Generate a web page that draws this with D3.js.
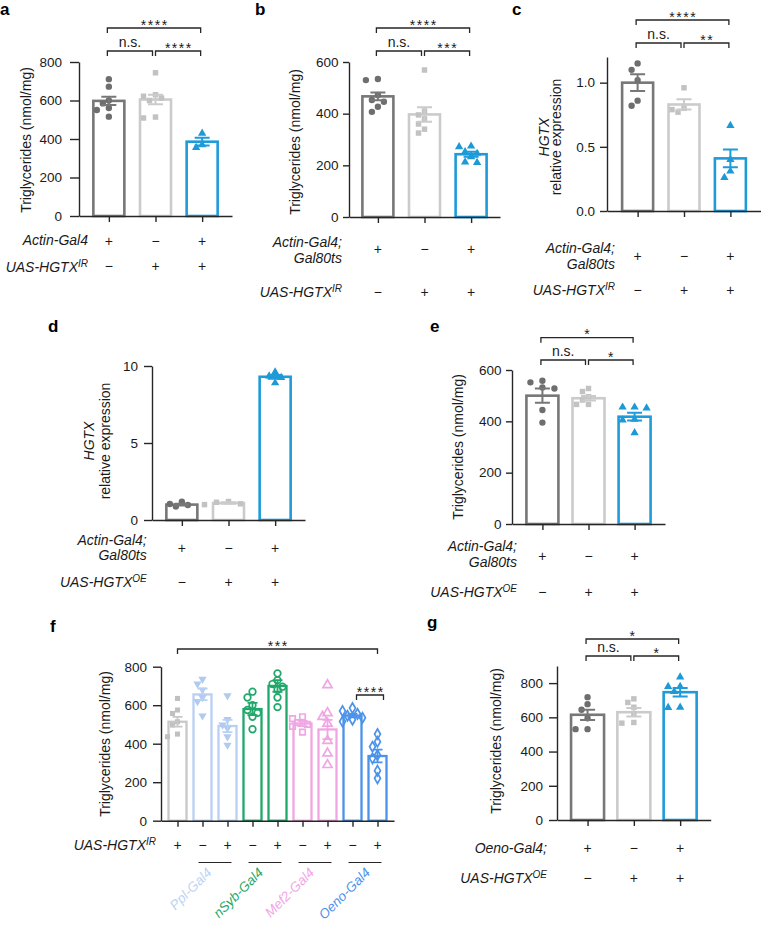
<!DOCTYPE html>
<html><head><meta charset="utf-8">
<script src="https://cdn.jsdelivr.net/npm/d3@7"></script>
<style>
body{margin:0;background:#fff;}
svg{display:block;font-family:"Liberation Sans", Arial, Helvetica, sans-serif;}
</style></head><body>
<svg id="fig" width="761" height="925"></svg>
<script>
const MINUS = "\u2212";

// ---------------- DATA ----------------
// Panel a
const aMeans = [598, 605, 386];
const aSEM = [22, 25, 20];
const aPts = [[711, 672, 600, 585, 561, 551, 516], [744, 630, 622, 613, 600, 514, 509], [430, 370, 355]];
const aTicks = [0, 200, 400, 600, 800];
const aRowLabels = [{lines: ["Actin-Gal4"]}, {lines: ["UAS-HGTX"], sup: "IR"}];
const aRowSigns = [["+", MINUS, "+"], [MINUS, "+", "+"]];
const aStats = [{from: 0, to: 1, label: "n.s.", level: 0}, {from: 1, to: 2, label: "****", level: 0}, {from: 0, to: 2, label: "****", level: 1}];

// Panel b
const bMeans = [467, 397, 243];
const bSEM = [15, 28, 10];
const bPts = [[534, 530, 472, 453, 446, 427, 407], [569, 410, 395, 380, 360, 340, 325], [274, 272, 252, 246, 233, 213, 211]];
const bTicks = [0, 200, 400, 600];
const bRowLabels = [{lines: ["Actin-Gal4;", "Gal80ts"]}, {lines: ["UAS-HGTX"], sup: "IR"}];
const bRowSigns = [["+", MINUS, "+"], [MINUS, "+", "+"]];
const bStats = [{from: 0, to: 1, label: "n.s.", level: 0}, {from: 1, to: 2, label: "***", level: 0}, {from: 0, to: 2, label: "****", level: 1}];

// Panel c
const cMeans = [1.0, 0.83, 0.41];
const cSEM = [0.065, 0.04, 0.07];
const cPts = [[1.15, 1.10, 1.02, 0.86, 0.82], [0.96, 0.80, 0.79, 0.77], [0.665, 0.40, 0.31, 0.26]];
const cTicks = [0, 0.5, 1.0];
const cRowLabels = [{lines: ["Actin-Gal4;", "Gal80ts"]}, {lines: ["UAS-HGTX"], sup: "IR"}];
const cRowSigns = [["+", MINUS, "+"], [MINUS, "+", "+"]];
const cStats = [{from: 0, to: 1, label: "n.s.", level: 0}, {from: 1, to: 2, label: "**", level: 0}, {from: 0, to: 2, label: "****", level: 1}];

// Panel d
const dMeans = [1.0, 1.1, 9.3];
const dSEM = [0.06, 0.05, 0.12];
const dPts = [[1.04, 0.87, 0.97, 1.19], [1.0, 1.05, 1.15, 1.2], [9.6, 9.35, 9.25, 8.9]];
const dTicks = [0, 5, 10];
const dRowLabels = [{lines: ["Actin-Gal4;", "Gal80ts"]}, {lines: ["UAS-HGTX"], sup: "OE"}];
const dRowSigns = [["+", MINUS, "+"], [MINUS, "+", "+"]];
const dStats = [];

// Panel e
const eMeans = [500, 490, 418];
const eSEM = [28, 9, 15];
const ePts = [[558, 552, 532, 528, 444, 395], [528, 516, 496, 483, 466, 466], [455, 455, 452, 408, 405, 355]];
const eTicks = [0, 200, 400, 600];
const eRowLabels = [{lines: ["Actin-Gal4;", "Gal80ts"]}, {lines: ["UAS-HGTX"], sup: "OE"}];
const eRowSigns = [["+", MINUS, "+"], [MINUS, "+", "+"]];
const eStats = [{from: 0, to: 1, label: "n.s.", level: 0}, {from: 1, to: 2, label: "*", level: 0}, {from: 0, to: 2, label: "*", level: 1}];

// Panel f
const fMeans = [514, 656, 492, 580, 700, 505, 474, 546, 336];
const fSEM = [25, 30, 32, 32, 30, 14, 50, 9, 33];
const fPts = [
  [635, 575, 557, 514, 497, 450, 436],
  [735, 710, 680, 640, 620, 545],
  [650, 526, 497, 480, 436, 393],
  [670, 640, 600, 575, 560, 540, 475],
  [765, 730, 710, 696, 680, 640, 590],
  [540, 530, 510, 500, 490, 460],
  [705, 560, 540, 505, 415, 350, 290],
  [585, 570, 555, 545, 535, 525, 515],
  [450, 410, 384, 341, 324, 260, 220]
];
const fTicks = [0, 200, 400, 600, 800];
const fRowLabels = [{lines: ["UAS-HGTX"], sup: "IR"}];
const fRowSigns = [["+", MINUS, "+", MINUS, "+", MINUS, "+", MINUS, "+"]];
const fDrivers = ["Ppl-Gal4", "nSyb-Gal4", "Mef2-Gal4", "Oeno-Gal4"];
const fDriverPairs = [[1, 2], [3, 4], [5, 6], [7, 8]];
const fStats = [{from: 0, to: 8, label: "***", level: 1}, {from: 7, to: 8, label: "****", level: 0}];

// Panel g
const gMeans = [615, 630, 747];
const gSEM = [30, 25, 25];
const gPts = [[718, 677, 644, 595, 531, 531], [708, 687, 659, 620, 570, 566], [835, 780, 780, 751, 659, 657]];
const gTicks = [0, 200, 400, 600, 800];
const gRowLabels = [{lines: ["Oeno-Gal4;"]}, {lines: ["UAS-HGTX"], sup: "OE"}];
const gRowSigns = [["+", MINUS, "+"], [MINUS, "+", "+"]];
const gStats = [{from: 0, to: 1, label: "n.s.", level: 0}, {from: 1, to: 2, label: "*", level: 0}, {from: 0, to: 2, label: "*", level: 1}];

// ---------------- STYLE ----------------
const AX = "#262626";
const TXT = "#1a1a1a";
const DARK = "#777777", LIGHT = "#cbcbcb", BLUE = "#1e9bd8";
const DARKP = "#6e6e6e", LIGHTP = "#c2c2c2", BLUEP = "#1d9ad6";
const std3Bars = [DARK, LIGHT, BLUE];
const std3Pts = [DARKP, LIGHTP, BLUEP];
const std3Markers = [{type: "circle", size: 32}, {type: "square", size: 30}, {type: "triangle", size: 30}];
const F_GREY = "#c8c8c8", F_LBLUE = "#b9d0f2", F_GREEN = "#1fa86a", F_PINK = "#f0a6e2", F_BLUE = "#4b93ea";
const fBarColors = [F_GREY, F_LBLUE, F_LBLUE, F_GREEN, F_GREEN, F_PINK, F_PINK, F_BLUE, F_BLUE];
const fPtColors = ["#c0c0c0", "#b0caf0", "#b0caf0", F_GREEN, F_GREEN, F_PINK, F_PINK, F_BLUE, F_BLUE];
const fMarkers = [
  {type: "square", size: 26}, {type: "tridown", size: 30}, {type: "tridown", size: 30},
  {type: "circle", size: 34, open: true}, {type: "circle", size: 34, open: true},
  {type: "square", size: 30, open: true}, {type: "triangle", size: 36, open: true},
  {type: "diamond", size: 30, open: true}, {type: "diamond", size: 30, open: true}
];
const fDriverColors = ["#bcd3f3", "#1ea868", "#f2a5e4", "#4a92ea"];
const fDriverDx = [-2.5, -1, 0, 6];

const svg = d3.select("#fig");

function symPath(type, size) {
  const map = {circle: d3.symbolCircle, square: d3.symbolSquare, triangle: d3.symbolTriangle,
    tridown: d3.symbolTriangle, diamond: d3.symbolDiamond};
  return d3.symbol().type(map[type]).size(size)();
}

function beeswarm(vals, y, step, minD) {
  const order = vals.map((v, i) => ({v, i, py: y(v)})).sort((a, b) => b.v - a.v);
  const placed = [];
  const cand = [0, -1, 1, -2, 2, -3, 3, -4, 4];
  order.forEach(o => {
    o.dx = 0;
    for (const c of cand) {
      const dx = c * step;
      if (placed.every(p => Math.hypot(p.dx - dx, p.py - o.py) >= minD)) { o.dx = dx; break; }
    }
    placed.push(o);
  });
  return order;
}

function drawPanel(L, D) {
  const g = svg.append("g");
  const n = D.means.length;
  const x = d3.scalePoint().domain(d3.range(n)).range([L.axisX, L.axisEnd]).padding(L.pad);
  const y = d3.scaleLinear().domain([0, L.dmax]).range([L.y0, L.y1]);

  // panel letter
  g.append("text").attr("x", L.lx).attr("y", L.ly).text(L.label)
    .attr("font-size", 17).attr("font-weight", "bold").attr("fill", "#000");

  // bars
  g.append("g").selectAll("rect").data(D.means).join("rect")
    .attr("x", (d, i) => x(i) - L.barW / 2).attr("y", d => y(d))
    .attr("width", L.barW).attr("height", d => y(0) - y(d))
    .attr("fill", "none").attr("stroke", (d, i) => D.barColors[i]).attr("stroke-width", L.barSW);

  // points
  D.points.forEach((vals, gi) => {
    const sw = beeswarm(vals, y, L.jStep, L.jMin);
    const m = D.markers[gi];
    g.append("g").selectAll("path").data(sw).join("path")
      .attr("d", symPath(m.type, m.size))
      .attr("transform", d => `translate(${x(gi) + d.dx},${d.py})${m.type === "tridown" ? " rotate(180)" : ""}`)
      .attr("fill", m.open ? "none" : D.ptColors[gi])
      .attr("stroke", m.open ? D.ptColors[gi] : "none")
      .attr("stroke-width", m.open ? 1.7 : 0);
  });

  // error bars
  const eb = g.append("g").attr("fill", "none").attr("stroke-width", L.ebSW);
  D.means.forEach((m, i) => {
    const s = D.sem[i], cx = x(i), hw = L.capW / 2;
    eb.append("path").attr("stroke", D.barColors[i])
      .attr("d", `M${cx},${y(m - s)}V${y(m + s)}M${cx - hw},${y(m + s)}H${cx + hw}M${cx - hw},${y(m - s)}H${cx + hw}`);
  });

  // axes
  const ya = d3.axisLeft(y).tickValues(D.ticks).tickFormat(L.fmt || d3.format("d"))
    .tickSize(L.tickLen).tickSizeOuter(0).tickPadding(L.tickPad);
  const yg = g.append("g").attr("transform", `translate(${L.axisX},0)`).call(ya);
  const xa = d3.axisBottom(x).tickSize(6).tickSizeOuter(0).tickFormat("");
  const xg = g.append("g").attr("transform", `translate(0,${L.y0})`).call(xa);
  [yg, xg].forEach(a => {
    a.selectAll("path,line").attr("stroke", AX).attr("stroke-width", 1.4);
    a.selectAll("text").attr("font-size", 13.5).attr("fill", TXT)
      .attr("font-family", "'Liberation Sans', Arial, sans-serif");
  });

  // y title
  L.titles.forEach(t => {
    g.append("text").attr("transform", `translate(${t.x},${L.titleCy}) rotate(-90)`)
      .attr("text-anchor", "middle").attr("dy", t.italic ? "0.36em" : "0.25em")
      .attr("font-size", 14).attr("fill", TXT)
      .attr("font-style", t.italic ? "italic" : "normal").text(t.text);
  });

  // stat brackets
  D.stats.forEach((s, k) => {
    const by = L.bracketY[s.level];
    const off = L.bOff != null ? L.bOff : -1.5;
    let x1 = x(s.from) + off, x2 = x(s.to) + off;
    if (s.level === 0 && s.from > 0 && n === 3) x1 += 1.5;
    if (s.level === 0 && s.to < n - 1) x2 -= 1.5;
    if (L.statAdj && L.statAdj[k]) { x1 += L.statAdj[k][0]; x2 += L.statAdj[k][1]; }
    g.append("path").attr("fill", "none").attr("stroke", AX).attr("stroke-width", 1.3)
      .attr("d", `M${x1},${by + 5}V${by}H${x2}V${by + 5}`);
    const isStar = s.label.indexOf("*") === 0;
    g.append("text").attr("x", (x1 + x2) / 2 + (isStar ? 0.75 : 0))
      .attr("y", isStar ? by + 1.5 : by - 4.5)
      .attr("text-anchor", "middle").attr("font-size", 14).attr("fill", TXT)
      .attr("letter-spacing", isStar ? 1.5 : 0).text(s.label);
  });

  // rows
  D.rowLabels.forEach((r, ri) => {
    const R = L.rows[ri];
    r.lines.forEach((ln, li) => {
      const t = g.append("text").attr("x", L.rowX).attr("y", R.labelY[li])
        .attr("text-anchor", "end").attr("font-size", 14).attr("font-style", "italic").attr("fill", TXT);
      t.append("tspan").text(ln);
      if (r.sup && li === r.lines.length - 1) {
        t.append("tspan").attr("font-size", 10).attr("dy", -5).text(r.sup);
      }
    });
    g.append("g").selectAll("text").data(D.rowSigns[ri]).join("text")
      .attr("x", (d, i) => x(i)).attr("y", R.signY).attr("text-anchor", "middle")
      .attr("font-size", 14).attr("fill", TXT).text(d => d);
  });

  return {x, y, g};
}

// ---------------- LAYOUT + DRAW ----------------
const base = {barSW: 2.6, ebSW: 2, capW: 15, jStep: 6, jMin: 6.5};

drawPanel(Object.assign({}, base, {
  label: "a", lx: 0, ly: 15, axisX: 79, axisEnd: 232, pad: 0.64, y0: 216, y1: 62, dmax: 800,
  barW: 31, tickLen: 9, tickPad: 8, titles: [{text: "Triglycerides (nmol/mg)", x: 27.5}], titleCy: 140,
  bracketY: [51, 28], rowX: 88,
  rows: [{labelY: [245], signY: 245.5}, {labelY: [271.5], signY: 271}]
}), {means: aMeans, sem: aSEM, points: aPts, ticks: aTicks, rowLabels: aRowLabels, rowSigns: aRowSigns,
  stats: aStats, barColors: std3Bars, ptColors: std3Pts, markers: std3Markers});

drawPanel(Object.assign({}, base, {
  label: "b", lx: 255, ly: 15, axisX: 349, axisEnd: 500, pad: 0.62, y0: 217, y1: 62, dmax: 600,
  barW: 31, tickLen: 6, tickPad: 4.5, titles: [{text: "Triglycerides (nmol/mg)", x: 296}], titleCy: 142,
  bracketY: [51, 28], rowX: 342,
  rows: [{labelY: [246.7, 263], signY: 254}, {labelY: [296.5], signY: 296.5}]
}), {means: bMeans, sem: bSEM, points: bPts, ticks: bTicks, rowLabels: bRowLabels, rowSigns: bRowSigns,
  stats: bStats, barColors: std3Bars, ptColors: std3Pts, markers: std3Markers});

drawPanel(Object.assign({}, base, {
  label: "c", lx: 512, ly: 15, axisX: 607, axisEnd: 761, pad: 0.66, y0: 211, y1: 57, dmax: 1.2,
  barW: 31, tickLen: 7, tickPad: 5, fmt: d3.format(".1f"),
  titles: [{text: "HGTX", x: 544, italic: true}, {text: "relative expression", x: 557.5}], titleCy: 137,
  bracketY: [43, 20], rowX: 615,
  rows: [{labelY: [253, 269], signY: 261}, {labelY: [295], signY: 295}]
}), {means: cMeans, sem: cSEM, points: cPts, ticks: cTicks, rowLabels: cRowLabels, rowSigns: cRowSigns,
  stats: cStats, barColors: std3Bars, ptColors: std3Pts, markers: std3Markers});

drawPanel(Object.assign({}, base, {
  label: "d", lx: 48, ly: 332, axisX: 152, axisEnd: 305, pad: 0.64, y0: 520, y1: 366, dmax: 10,
  barW: 31, tickLen: 8, tickPad: 6,
  titles: [{text: "HGTX", x: 88.5, italic: true}, {text: "relative expression", x: 106}], titleCy: 441,
  bracketY: [0, 0], rowX: 146.7,
  rows: [{labelY: [545, 560], signY: 553}, {labelY: [587], signY: 587}]
}), {means: dMeans, sem: dSEM, points: dPts, ticks: dTicks, rowLabels: dRowLabels, rowSigns: dRowSigns,
  stats: dStats, barColors: std3Bars, ptColors: std3Pts, markers: std3Markers});

drawPanel(Object.assign({}, base, {
  label: "e", lx: 430, ly: 332, axisX: 512, axisEnd: 665, pad: 0.66, y0: 524, y1: 370, dmax: 600,
  barW: 32, tickLen: 6, tickPad: 4.5, titles: [{text: "Triglycerides (nmol/mg)", x: 459}], titleCy: 447,
  bracketY: [360, 337.7], rowX: 517,
  rows: [{labelY: [551, 567], signY: 561}, {labelY: [597], signY: 597}]
}), {means: eMeans, sem: eSEM, points: ePts, ticks: eTicks, rowLabels: eRowLabels, rowSigns: eRowSigns,
  stats: eStats, barColors: std3Bars, ptColors: std3Pts, markers: std3Markers});

const F = drawPanel(Object.assign({}, base, {
  label: "f", lx: 50, ly: 632, axisX: 161, axisEnd: 394, pad: 0.66, y0: 820.7, y1: 666.7, dmax: 800,
  barW: 18, barSW: 2.3, ebSW: 1.8, capW: 10, jStep: 5, jMin: 5.8, tickLen: 8, tickPad: 6,
  titles: [{text: "Triglycerides (nmol/mg)", x: 106}], titleCy: 744,
  bracketY: [695, 649], bOff: 0, statAdj: [[0, 0], [4, 6]], rowX: 156,
  rows: [{labelY: [850], signY: 850}]
}), {means: fMeans, sem: fSEM, points: fPts, ticks: fTicks, rowLabels: fRowLabels, rowSigns: fRowSigns,
  stats: fStats, barColors: fBarColors, ptColors: fPtColors, markers: fMarkers});

// f: driver underlines and rotated labels
fDriverPairs.forEach((pr, k) => {
  const xa = F.x(pr[0]), xb = F.x(pr[1]);
  F.g.append("line").attr("x1", xa - 4).attr("x2", xb + 4).attr("y1", 862.5).attr("y2", 862.5)
    .attr("stroke", AX).attr("stroke-width", 1.2);
  const cx = (xa + xb) / 2 + fDriverDx[k];
  F.g.append("text").attr("transform", `translate(${cx},873.5) rotate(-45)`)
    .attr("text-anchor", "end").attr("font-size", 13.5).attr("font-style", "italic")
    .attr("fill", fDriverColors[k]).text(fDrivers[k]);
});

drawPanel(Object.assign({}, base, {
  label: "g", lx: 427, ly: 628, axisX: 557, axisEnd: 710.7, pad: 0.66, y0: 820, y1: 666, dmax: 900,
  barW: 33, tickLen: 8, tickPad: 6, titles: [{text: "Triglycerides (nmol/mg)", x: 497}], titleCy: 741,
  bracketY: [656, 639], rowX: 547,
  rows: [{labelY: [853], signY: 853}, {labelY: [883], signY: 883}]
}), {means: gMeans, sem: gSEM, points: gPts, ticks: gTicks, rowLabels: gRowLabels, rowSigns: gRowSigns,
  stats: gStats, barColors: std3Bars, ptColors: std3Pts, markers: std3Markers});
</script>
</body></html>
